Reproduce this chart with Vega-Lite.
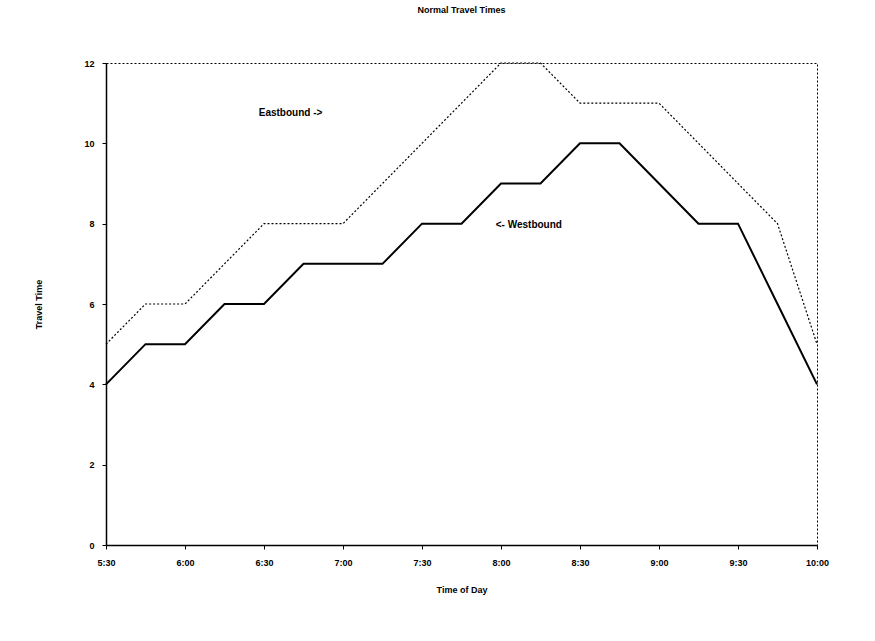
{
  "$schema": "https://vega.github.io/schema/vega-lite/v6.json",
  "autosize": "none",
  "width": 711,
  "height": 482,
  "padding": {"left": 106, "top": 63, "right": 58, "bottom": 96},
  "background": "white",
  "view": {"stroke": "black", "strokeDash": [2, 2], "strokeWidth": 1},
  "title": {"text": "Normal Travel Times", "font": "Liberation Sans", "fontSize": 9, "fontWeight": "bold", "color": "black", "offset": 44, "anchor": "middle"},
  "config": {
    "view": {"stroke": "black", "strokeDash": [2, 2], "strokeWidth": 1},
    "axis": {"grid": false, "domainColor": "black", "domainWidth": 1.5, "tickColor": "black", "labelFont": "Liberation Sans", "labelFontSize": 9, "labelFontWeight": "bold", "labelColor": "black", "titleFont": "Liberation Sans", "titleFontSize": 9, "titleFontWeight": "bold", "titleColor": "black"}
  },
  "data": {"values": [
      {"time": "2000-01-01T05:30:00", "dir": "Eastbound", "value": 5},
      {"time": "2000-01-01T05:45:00", "dir": "Eastbound", "value": 6},
      {"time": "2000-01-01T06:00:00", "dir": "Eastbound", "value": 6},
      {"time": "2000-01-01T06:15:00", "dir": "Eastbound", "value": 7},
      {"time": "2000-01-01T06:30:00", "dir": "Eastbound", "value": 8},
      {"time": "2000-01-01T06:45:00", "dir": "Eastbound", "value": 8},
      {"time": "2000-01-01T07:00:00", "dir": "Eastbound", "value": 8},
      {"time": "2000-01-01T07:15:00", "dir": "Eastbound", "value": 9},
      {"time": "2000-01-01T07:30:00", "dir": "Eastbound", "value": 10},
      {"time": "2000-01-01T07:45:00", "dir": "Eastbound", "value": 11},
      {"time": "2000-01-01T08:00:00", "dir": "Eastbound", "value": 12},
      {"time": "2000-01-01T08:15:00", "dir": "Eastbound", "value": 12},
      {"time": "2000-01-01T08:30:00", "dir": "Eastbound", "value": 11},
      {"time": "2000-01-01T08:45:00", "dir": "Eastbound", "value": 11},
      {"time": "2000-01-01T09:00:00", "dir": "Eastbound", "value": 11},
      {"time": "2000-01-01T09:15:00", "dir": "Eastbound", "value": 10},
      {"time": "2000-01-01T09:30:00", "dir": "Eastbound", "value": 9},
      {"time": "2000-01-01T09:45:00", "dir": "Eastbound", "value": 8},
      {"time": "2000-01-01T10:00:00", "dir": "Eastbound", "value": 5},
      {"time": "2000-01-01T05:30:00", "dir": "Westbound", "value": 4},
      {"time": "2000-01-01T05:45:00", "dir": "Westbound", "value": 5},
      {"time": "2000-01-01T06:00:00", "dir": "Westbound", "value": 5},
      {"time": "2000-01-01T06:15:00", "dir": "Westbound", "value": 6},
      {"time": "2000-01-01T06:30:00", "dir": "Westbound", "value": 6},
      {"time": "2000-01-01T06:45:00", "dir": "Westbound", "value": 7},
      {"time": "2000-01-01T07:00:00", "dir": "Westbound", "value": 7},
      {"time": "2000-01-01T07:15:00", "dir": "Westbound", "value": 7},
      {"time": "2000-01-01T07:30:00", "dir": "Westbound", "value": 8},
      {"time": "2000-01-01T07:45:00", "dir": "Westbound", "value": 8},
      {"time": "2000-01-01T08:00:00", "dir": "Westbound", "value": 9},
      {"time": "2000-01-01T08:15:00", "dir": "Westbound", "value": 9},
      {"time": "2000-01-01T08:30:00", "dir": "Westbound", "value": 10},
      {"time": "2000-01-01T08:45:00", "dir": "Westbound", "value": 10},
      {"time": "2000-01-01T09:00:00", "dir": "Westbound", "value": 9},
      {"time": "2000-01-01T09:15:00", "dir": "Westbound", "value": 8},
      {"time": "2000-01-01T09:30:00", "dir": "Westbound", "value": 8},
      {"time": "2000-01-01T09:45:00", "dir": "Westbound", "value": 6},
      {"time": "2000-01-01T10:00:00", "dir": "Westbound", "value": 4},
      {"time": "2000-01-01T06:28:00", "dir": "Label", "value": 10.75, "label": "Eastbound ->"},
      {"time": "2000-01-01T07:58:00", "dir": "Label", "value": 7.97, "label": "<- Westbound"}
  ]},
  "encoding": {
    "x": {"field": "time", "type": "temporal", "scale": {"domain": [{"year": 2000, "month": 1, "date": 1, "hours": 5, "minutes": 30}, {"year": 2000, "month": 1, "date": 1, "hours": 10, "minutes": 0}]},
      "axis": {"title": "Time of Day", "format": "%-H:%M", "values": [{"year": 2000, "month": 1, "date": 1, "hours": 5, "minutes": 30}, {"year": 2000, "month": 1, "date": 1, "hours": 6, "minutes": 0}, {"year": 2000, "month": 1, "date": 1, "hours": 6, "minutes": 30}, {"year": 2000, "month": 1, "date": 1, "hours": 7, "minutes": 0}, {"year": 2000, "month": 1, "date": 1, "hours": 7, "minutes": 30}, {"year": 2000, "month": 1, "date": 1, "hours": 8, "minutes": 0}, {"year": 2000, "month": 1, "date": 1, "hours": 8, "minutes": 30}, {"year": 2000, "month": 1, "date": 1, "hours": 9, "minutes": 0}, {"year": 2000, "month": 1, "date": 1, "hours": 9, "minutes": 30}, {"year": 2000, "month": 1, "date": 1, "hours": 10, "minutes": 0}], "labelPadding": 9, "tickSize": 4, "titlePadding": 18, "labelFlush": false}},
    "y": {"field": "value", "type": "quantitative", "scale": {"domain": [0, 12]},
      "axis": {"title": "Travel Time", "values": [0, 2, 4, 6, 8, 10, 12], "labelPadding": 8, "tickSize": 4, "titlePadding": 40}}
  },
  "layer": [
    {
      "transform": [{"filter": "datum.dir === 'Eastbound'"}],
      "mark": {"type": "line", "color": "black", "strokeWidth": 1.2, "strokeDash": [2, 2]}
    },
    {
      "transform": [{"filter": "datum.dir === 'Westbound'"}],
      "mark": {"type": "line", "color": "black", "strokeWidth": 2}
    },
    {
      "transform": [{"filter": "datum.dir === 'Label'"}],
      "mark": {"type": "text", "align": "left", "baseline": "middle", "font": "Liberation Sans", "fontSize": 10, "fontWeight": "bold", "color": "black"},
      "encoding": {"text": {"field": "label"}}
    }
  ]
}
